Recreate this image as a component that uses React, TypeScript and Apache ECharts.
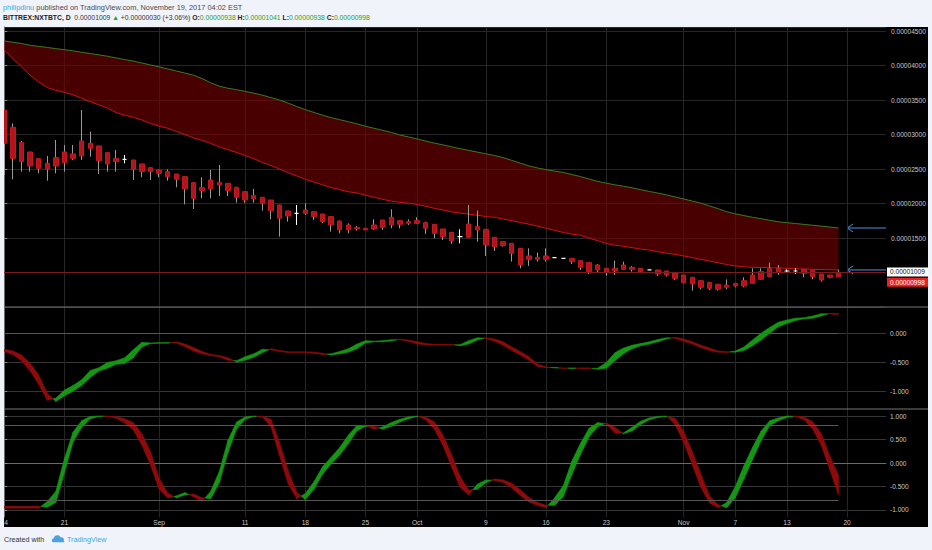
import React, { useEffect, useRef } from "react";
import * as echarts from "echarts";

// ---------- DATA (prices in satoshi, 1e-8 BTC) ----------
const xTickDays = [0, 7, 18, 28, 35, 42, 48, 56, 63, 70, 79, 85, 91, 98];
const xTickLabels = ["14", "21", "Sep", "11", "18", "25", "Oct", "9", "16", "23", "Nov", "7", "13", "20"];

const priceOpen = [3355,3104,2882,2747,2650,2582,2664,2747,2718,2906, 2872,2834,2737,2655,2640,2631,2573,2520,2486,2462, 2428,2389,2302,2230,2341,2307,2293,2235,2172,2114, 2090,2051,1979,1892,1858,1906,1882,1848,1810,1747, 1689,1655,1641,1689,1761,1800,1752,1737,1752,1723, 1699,1631,1583,1520,1703,1665,1626,1510,1447,1423, 1351,1240,1220,1240,1216,1206,1201,1172,1143,1109, 1061,1061,1109,1075,1061,1037,1037,1022,998,964, 930,882,858,829,819,843,882,964,1013,1061, 1061,1022,1022,1046,1037,979,964,938];
const priceClose = [2872,2655,2607,2544,2510,2500,2544,2592,2655,2689, 2800,2621,2573,2607,2640,2495,2462,2462,2437,2389, 2351,2211,2075,2186,2211,2268,2186,2090,2051,2066, 2003,1897,1786,1819,1858,1858,1810,1737,1689,1617, 1617,1636,1617,1631,1655,1689,1699,1713,1713,1641, 1568,1520,1457,1520,1510,1617,1399,1375,1390,1278, 1109,1191,1191,1191,1216,1206,1158,1076,1013,1037, 998,1027,1046,1046,1013,1037,979,964,916,853, 834,786,771,757,786,805,805,843,901,940, 998,1022,1022,988,940,892,930,998];
const priceLow = [2413,2351,2462,2462,2437,2331,2437,2462,2631,2631, 2679,2428,2462,2462,2582,2341,2380,2341,2380,2331, 2235,1988,1921,2075,2075,2109,2109,2012,2012,2012, 1897,1771,1520,1737,1689,1834,1761,1713,1592,1568, 1568,1607,1617,1617,1617,1641,1641,1689,1703,1559, 1496,1472,1414,1423,1510,1447,1240,1312,1375,1158, 1061,1095,1158,1158,1216,1206,1124,1037,979,998, 950,964,1037,1013,998,1037,950,940,892,843, 737,757,747,737,757,786,786,843,892,930, 964,998,979,930,901,868,916,938];
const priceHigh = [3355,3162,2906,2747,2650,2689,2920,2848,2848,3355, 3041,2834,2737,2776,2703,2631,2573,2520,2495,2495, 2428,2389,2302,2380,2486,2558,2293,2235,2172,2211, 2090,2051,1979,1892,1979,2003,1882,1848,1810,1747, 1713,1674,1641,1771,1761,1916,1752,1771,1800,1737, 1699,1631,1583,1626,1979,1897,1626,1510,1447,1423, 1351,1351,1288,1351,1216,1206,1201,1172,1143,1124, 1061,1172,1157,1095,1061,1037,1037,1022,998,964, 930,882,858,829,901,843,930,1061,1061,1143, 1109,1046,1061,1046,1037,979,964,1041];

const cloudUpper = [4355,4337,4318,4293,4277,4262,4244,4229,4212,4192, 4173,4154,4134,4110,4086,4064,4036,4008,3980,3950, 3921,3890,3860,3810,3750,3700,3670,3650,3625,3600, 3570,3535,3500,3455,3405,3360,3320,3280,3245,3215, 3185,3155,3120,3090,3060,3030,2993,2965,2935,2905, 2875,2850,2822,2795,2770,2745,2720,2695,2665,2625, 2585,2545,2515,2490,2470,2450,2420,2390,2355,2320, 2295,2270,2250,2228,2200,2175,2150,2125,2095,2065, 2035,2005,1965,1925,1880,1850,1825,1800,1780,1757, 1735,1722,1710,1697,1685,1672,1658,1645];
const cloudLower = [4225,4100,3980,3860,3760,3680,3640,3610,3575,3525, 3475,3430,3380,3318,3280,3250,3210,3160,3120,3090, 3045,3000,2950,2915,2870,2820,2780,2740,2695,2650, 2595,2550,2500,2445,2400,2350,2310,2270,2230,2200, 2170,2153,2120,2090,2060,2035,2015,2005,1985,1960, 1930,1905,1878,1860,1845,1830,1810,1800,1775,1750, 1725,1700,1670,1640,1610,1580,1555,1540,1500,1460, 1420,1395,1380,1360,1340,1325,1300,1280,1262,1240, 1215,1190,1165,1140,1115,1095,1082,1076,1072,1069, 1066,1060,1055,1050,1046,1042,1040,1037];

const osc1Fast = [-0.31,-0.36,-0.47,-0.65,-0.88,-1.16,-1.12,-0.98,-0.9,-0.8, -0.64,-0.59,-0.5,-0.47,-0.42,-0.28,-0.15,-0.16,-0.155,-0.155, -0.16,-0.22,-0.3,-0.35,-0.38,-0.4,-0.46,-0.47,-0.4,-0.35, -0.27,-0.28,-0.31,-0.325,-0.325,-0.325,-0.34,-0.36,-0.35,-0.31, -0.26,-0.18,-0.12,-0.13,-0.12,-0.105,-0.105,-0.13,-0.18,-0.19, -0.195,-0.195,-0.195,-0.19,-0.12,-0.07,-0.08,-0.13,-0.2,-0.29, -0.37,-0.46,-0.57,-0.59,-0.585,-0.605,-0.595,-0.605,-0.605,-0.6, -0.5,-0.33,-0.25,-0.2,-0.17,-0.14,-0.1,-0.07,-0.08,-0.13, -0.18,-0.24,-0.29,-0.32,-0.325,-0.3,-0.23,-0.11,0.01,0.11, 0.2,0.24,0.27,0.28,0.31,0.35,0.345,0.33];
const osc1Slow = [-0.27,-0.3,-0.37,-0.51,-0.72,-1.04,-1.18,-1.08,-1.0,-0.9, -0.76,-0.65,-0.6,-0.53,-0.52,-0.42,-0.23,-0.17,-0.165,-0.165, -0.14,-0.18,-0.24,-0.31,-0.36,-0.38,-0.42,-0.49,-0.46,-0.41, -0.33,-0.26,-0.29,-0.315,-0.315,-0.315,-0.32,-0.34,-0.37,-0.35, -0.32,-0.26,-0.16,-0.14,-0.14,-0.125,-0.095,-0.11,-0.14,-0.17, -0.185,-0.185,-0.185,-0.21,-0.18,-0.11,-0.07,-0.09,-0.14,-0.23, -0.31,-0.4,-0.53,-0.58,-0.595,-0.595,-0.605,-0.595,-0.595,-0.62, -0.6,-0.47,-0.35,-0.26,-0.21,-0.18,-0.14,-0.09,-0.06,-0.09, -0.14,-0.2,-0.25,-0.3,-0.315,-0.32,-0.29,-0.21,-0.11,0.01, 0.12,0.18,0.23,0.26,0.27,0.31,0.355,0.35];

const osc2Fast = [-0.96,-0.96,-0.96,-0.96,-0.96,-0.82,-0.6,0.1,0.66,0.9, 0.99,1.0,0.99,0.95,0.86,0.7,0.38,-0.04,-0.56,-0.74, -0.7,-0.63,-0.72,-0.82,-0.6,-0.18,0.48,0.87,0.98,1.0, 0.98,0.77,0.16,-0.44,-0.76,-0.65,-0.4,-0.08,0.12,0.33, 0.59,0.8,0.8,0.72,0.77,0.86,0.93,0.98,1.0,0.92, 0.72,0.38,-0.08,-0.52,-0.68,-0.45,-0.36,-0.37,-0.41,-0.53, -0.69,-0.83,-0.9,-0.95,-0.74,-0.48,0.04,0.42,0.74,0.86, 0.83,0.64,0.64,0.76,0.89,0.96,0.99,1.0,0.82,0.44, -0.04,-0.52,-0.85,-0.95,-0.84,-0.5,-0.06,0.33,0.68,0.9, 0.96,1.0,0.99,0.92,0.72,0.38,-0.15,-0.68];
const osc2Slow = [-0.92,-0.92,-0.92,-0.92,-0.92,-0.94,-0.84,-0.2,0.45,0.76, 0.94,0.99,1.0,0.99,0.94,0.86,0.62,0.24,-0.32,-0.64, -0.74,-0.68,-0.66,-0.74,-0.76,-0.42,0.22,0.72,0.93,0.99, 1.0,0.93,0.44,-0.16,-0.62,-0.78,-0.56,-0.24,-0.02,0.17, 0.41,0.68,0.78,0.78,0.72,0.78,0.87,0.94,0.99,0.98, 0.88,0.6,0.18,-0.28,-0.58,-0.56,-0.42,-0.34,-0.36,-0.43, -0.57,-0.73,-0.84,-0.9,-0.9,-0.72,-0.24,0.18,0.56,0.77, 0.85,0.76,0.62,0.68,0.82,0.92,0.97,0.99,0.95,0.67, 0.24,-0.24,-0.7,-0.89,-0.95,-0.74,-0.34,0.07,0.48,0.79, 0.9,0.97,1.0,0.98,0.88,0.62,0.14,-0.26];

const osc1Ticks = [0, -0.5, -1];
const osc2Ticks = [1, 0.5, 0, -0.5, -1];
const osc1Levels = [0];
const osc2Levels = [0.8, -0.8];

const headerUser = "philipdinu";
const headerPublished = " published on TradingView.com, November 19, 2017 04:02 EST";
const headerSymbol = "BITTREX:NXTBTC, D";
const headerLast = 1009;
const headerChange = 30;
const headerChangePct = "+3.06%";

// ---------- STYLE ----------
const FONT = "'Liberation Sans', Arial, sans-serif";
const PAGE_BG = "#f0f3fa";
const GRID_LINE = "#262626";
const PANE_HLINE = "#363636";
const AXIS_LINE = "#6a6a6a";
const LEVEL_LINE = "#575757";
const LABEL = "#c8c8c8";
const CANDLE = "#b3131b";
const WICK = "#9a9a9a";
const GREEN = "#149814";
const RED = "#8f0b0b";
const CLOUD_FILL = "rgba(118,0,0,0.62)";
const X_MIN = -0.035;
const X_MAX = 102.52;

const sat = (v: number) => (v / 1e8).toFixed(8);

const LOGO_PATH =
  "M3 11 C0.5 11 0 7 3.2 6.3 C3.6 2.6 9.5 1.2 11.2 5 C13.8 4.4 16 6.6 15 9 C16.2 9.6 15.6 11 14.2 11 Z";
echarts.graphic.registerShape("tvlogo", echarts.graphic.extendPath(LOGO_PATH, {}));

function ribbon(fast: number[], slow: number[]) {
  return (params: any, api: any) => {
    const i = params.dataIndex;
    if (i >= fast.length - 1) return null;
    const a0 = api.coord([i, fast[i]]);
    const a1 = api.coord([i + 1, fast[i + 1]]);
    const b0 = api.coord([i, slow[i]]);
    const b1 = api.coord([i + 1, slow[i + 1]]);
    const d0 = fast[i] - slow[i];
    const d1 = fast[i + 1] - slow[i + 1];
    const col = (d: number) => (d >= 0 ? GREEN : RED);
    const poly = (pts: number[][], c: string) => ({
      type: "polygon",
      shape: { points: pts },
      style: { fill: c, stroke: c, lineWidth: 0.6 },
    });
    if (d0 * d1 < 0) {
      const t = d0 / (d0 - d1);
      const c = [a0[0] + (a1[0] - a0[0]) * t, a0[1] + (a1[1] - a0[1]) * t];
      return {
        type: "group",
        children: [poly([a0, c, b0], col(d0)), poly([c, a1, b1], col(d1))],
      };
    }
    return poly([a0, a1, b1, b0], col(d0 + d1));
  };
}

function cloudRender(params: any, api: any) {
  if (params.dataIndex !== 0) return null;
  const top = cloudUpper.map((v, i) => api.coord([i, v]));
  const bottom = cloudLower.map((v, i) => api.coord([i, v])).reverse();
  return {
    type: "polygon",
    shape: { points: top.concat(bottom) },
    style: { fill: CLOUD_FILL },
  };
}

export default function App() {
  const ref = useRef<HTMLDivElement>(null);

  useEffect(() => {
    document.body.style.margin = "0";
    const chart = echarts.init(ref.current!, undefined, { renderer: "svg" });
    const N = priceOpen.length;

    const grids = [
      { left: 4, right: 46, top: 27, height: 280 },
      { left: 4, right: 46, top: 307, height: 102 },
      { left: 4, right: 46, top: 409, height: 108 },
    ].map((g) => ({ ...g, containLabel: false, outerBoundsMode: "none", show: false }));

    const xAxes = [0, 1, 2].map((g) => ({
      type: "value",
      gridIndex: g,
      min: X_MIN,
      max: X_MAX,
      axisLine: { show: g === 2, lineStyle: { color: AXIS_LINE, width: 1 } },
      axisTick: { show: false, customValues: xTickDays },
      axisLabel: {
        show: g === 2,
        customValues: xTickDays,
        formatter: (v: number) => {
          const k = xTickDays.indexOf(Math.round(v));
          return k >= 0 ? xTickLabels[k] : "";
        },
        color: LABEL,
        fontSize: 6.6,
        fontFamily: FONT,
        margin: 2,
      },
      splitLine: { show: true, lineStyle: { color: GRID_LINE, width: 1 } },
    }));

    const yCommon = {
      type: "value",
      position: "right",
      axisLine: { show: true, lineStyle: { color: AXIS_LINE, width: 1 } },
    };

    const yAxes = [
      {
        ...yCommon,
        gridIndex: 0,
        min: 500,
        max: 4558,
        interval: 500,
        splitLine: { show: true, lineStyle: { color: GRID_LINE, width: 1 } },
        axisTick: { show: true, length: 3, lineStyle: { color: "#8a8a8a" } },
        axisLabel: {
          color: LABEL,
          fontSize: 6.6,
          fontFamily: FONT,
          margin: 5,
          showMinLabel: false,
          showMaxLabel: false,
          formatter: (v: number) => (v === 1000 ? "" : sat(v)),
        },
      },
      {
        ...yCommon,
        gridIndex: 1,
        min: -1.31,
        max: 0.4655,
        splitLine: { show: true, lineStyle: { color: PANE_HLINE, width: 1 } },
        axisTick: { show: true, length: 3, customValues: osc1Ticks, lineStyle: { color: "#8a8a8a" } },
        axisLabel: {
          customValues: osc1Ticks,
          color: LABEL,
          fontSize: 6.6,
          fontFamily: FONT,
          margin: 4,
          formatter: (v: number) => v.toFixed(3),
        },
      },
      {
        ...yCommon,
        gridIndex: 2,
        min: -1.149,
        max: 1.149,
        splitLine: { show: true, lineStyle: { color: PANE_HLINE, width: 1 } },
        axisTick: { show: true, length: 3, customValues: osc2Ticks, lineStyle: { color: "#8a8a8a" } },
        axisLabel: {
          customValues: osc2Ticks,
          color: LABEL,
          fontSize: 6.6,
          fontFamily: FONT,
          margin: 4,
          formatter: (v: number) => v.toFixed(3),
        },
      },
    ];

    const isDoji = (i: number) => priceOpen[i] === priceClose[i];

    const wickData = priceOpen.map((o, i) => ({
      value: [i, o, priceClose[i], priceLow[i], priceHigh[i]],
      itemStyle: isDoji(i)
        ? { color: "#ffffff", color0: "#ffffff", borderColor: "#ffffff", borderColor0: "#ffffff" }
        : undefined,
    }));
    const bodyData = priceOpen.map((o, i) => {
      const c = priceClose[i];
      return {
        value: [i, o, c, Math.min(o, c), Math.max(o, c)],
        itemStyle: isDoji(i)
          ? { color: "#ffffff", color0: "#ffffff", borderColor: "#ffffff", borderColor0: "#ffffff", borderWidth: 1.2 }
          : undefined,
      };
    });

    const levelLine = (levels: number[]) => ({
      silent: true,
      symbol: "none",
      label: { show: false },
      lineStyle: { color: LEVEL_LINE, width: 1, type: "solid" },
      data: levels.map((lv) => [{ coord: [0, lv] }, { coord: [N - 1, lv] }]),
    });

    const series: any[] = [
      {
        name: "cloudFill",
        type: "custom",
        xAxisIndex: 0,
        yAxisIndex: 0,
        data: cloudUpper.map((u, i) => [i, u, cloudLower[i]]),
        encode: { x: 0, y: [1, 2] },
        renderItem: cloudRender,
        silent: true,
        z: 1,
      },
      {
        name: "cloudLower",
        type: "line",
        xAxisIndex: 0,
        yAxisIndex: 0,
        symbol: "none",
        data: cloudLower.map((v, i) => [i, v]),
        lineStyle: { color: "#c81414", width: 1 },
        z: 1,
      },
      {
        name: "cloudUpper",
        type: "line",
        xAxisIndex: 0,
        yAxisIndex: 0,
        symbol: "none",
        data: cloudUpper.map((v, i) => [i, v]),
        lineStyle: { color: "#3f7a1f", width: 1 },
        z: 1,
      },
      {
        name: "wicks",
        type: "candlestick",
        xAxisIndex: 0,
        yAxisIndex: 0,
        barWidth: 1,
        data: wickData,
        itemStyle: { color: WICK, color0: WICK, borderColor: WICK, borderColor0: WICK, borderWidth: 1 },
        markLine: {
          silent: true,
          symbol: "none",
          label: { show: false },
          lineStyle: { color: "#7a1c1c", width: 1, type: "solid" },
          data: [{ yAxis: priceClose[N - 1] }],
        },
        z: 2,
      },
      {
        name: "bodies",
        type: "candlestick",
        xAxisIndex: 0,
        yAxisIndex: 0,
        barWidth: 5,
        data: bodyData,
        itemStyle: { color: CANDLE, color0: CANDLE, borderColor: "#c41820", borderColor0: "#c41820", borderWidth: 1 },
        z: 3,
      },
      {
        name: "osc1",
        type: "custom",
        xAxisIndex: 1,
        yAxisIndex: 1,
        data: osc1Fast.map((f, i) => [i, f, osc1Slow[i]]),
        encode: { x: 0, y: [1, 2] },
        renderItem: ribbon(osc1Fast, osc1Slow),
        markLine: levelLine(osc1Levels),
        z: 2,
      },
      {
        name: "osc2",
        type: "custom",
        xAxisIndex: 2,
        yAxisIndex: 2,
        data: osc2Fast.map((f, i) => [i, f, osc2Slow[i]]),
        encode: { x: 0, y: [1, 2] },
        renderItem: ribbon(osc2Fast, osc2Slow),
        markLine: levelLine(osc2Levels),
        z: 2,
      },
    ];

    const last = N - 1;
    const baseGraphics: any[] = [
      { id: "bg", type: "rect", z: -10, silent: true, shape: { x: 4, y: 27, width: 924, height: 500 }, style: { fill: "#000000" } },
      { id: "sep1", type: "line", z: 50, silent: true, shape: { x1: 4, y1: 307, x2: 928, y2: 307 }, style: { stroke: "#767676", lineWidth: 1 } },
      { id: "sep2", type: "line", z: 50, silent: true, shape: { x1: 4, y1: 409, x2: 928, y2: 409 }, style: { stroke: "#767676", lineWidth: 1 } },
      { id: "cover", type: "rect", z: 60, silent: true, shape: { x: 0, y: 27, width: 4, height: 500 }, style: { fill: PAGE_BG } },
      {
        id: "h1",
        type: "text",
        x: 3,
        y: 7,
        z: 60,
        style: {
          text: `{u|${headerUser}}${headerPublished}`,
          fill: "#4a4a4a",
          fontSize: 7.4,
          fontFamily: FONT,
          verticalAlign: "middle",
          rich: { u: { fill: "#3ba7e0", fontSize: 7.4, fontFamily: FONT } },
        },
      },
      {
        id: "h2",
        type: "text",
        x: 3,
        y: 17.5,
        z: 60,
        style: {
          text:
            `{b|${headerSymbol}}  ${sat(headerLast)} {g|▲} +${sat(headerChange)} (${headerChangePct}) ` +
            `{b|O:}{g|${sat(priceOpen[last])}} {b|H:}{g|${sat(priceHigh[last])}} ` +
            `{b|L:}{g|${sat(priceLow[last])}} {b|C:}{g|${sat(priceClose[last])}}`,
          fill: "#333333",
          fontSize: 6.8,
          fontFamily: FONT,
          verticalAlign: "middle",
          rich: {
            b: { fill: "#222222", fontWeight: "bold", fontSize: 6.8, fontFamily: FONT },
            g: { fill: "#23a323", fontSize: 6.8, fontFamily: FONT },
          },
        },
      },
      {
        id: "f1",
        type: "text",
        x: 4,
        y: 539.5,
        z: 60,
        style: { text: "Created with", fill: "#333333", fontSize: 7.2, fontFamily: FONT, verticalAlign: "middle" },
      },
      { id: "logo", type: "tvlogo", x: 51, y: 533, scaleX: 0.85, scaleY: 0.85, z: 60, style: { fill: "#4aa3df" } },
      {
        id: "f2",
        type: "text",
        x: 67,
        y: 539.5,
        z: 60,
        style: { text: "TradingView", fill: "#3ba7e0", fontSize: 7.2, fontFamily: FONT, verticalAlign: "middle" },
      },
    ];

    chart.setOption({
      animation: false,
      backgroundColor: PAGE_BG,
      grid: grids,
      xAxis: xAxes,
      yAxis: yAxes,
      series,
      graphic: { elements: baseGraphics },
    } as any);

    const px = (x: number, y: number) => chart.convertToPixel({ gridIndex: 0 } as any, [x, y]) as unknown as number[];
    const arrow = (id: string, yVal: number) => {
      const s = px(98, yVal);
      const e = px(X_MAX, yVal);
      return {
        id,
        type: "group",
        z: 55,
        silent: true,
        children: [
          { type: "line", shape: { x1: s[0], y1: s[1], x2: e[0], y2: s[1] }, style: { stroke: "#4f8ee0", lineWidth: 1 } },
          { type: "polyline", shape: { points: [[s[0] + 6, s[1] - 4], [s[0], s[1]], [s[0] + 6, s[1] + 4]] }, style: { stroke: "#4f8ee0", lineWidth: 1, fill: null } },
        ],
      };
    };
    const tag = (id: string, yVal: number, dy: number, bg: string, fg: string) => {
      const p = px(X_MAX, yVal);
      const y = p[1] + dy;
      return {
        id,
        type: "group",
        z: 58,
        silent: true,
        children: [
          { type: "rect", shape: { x: p[0] + 1, y: y - 4.5, width: 41, height: 9 }, style: { fill: bg } },
          {
            type: "text",
            x: p[0] + 4,
            y,
            style: { text: sat(yVal), fill: fg, fontSize: 6.6, fontFamily: FONT, verticalAlign: "middle" },
          },
        ],
      };
    };

    chart.setOption({
      graphic: {
        elements: [
          ...baseGraphics,
          arrow("arrowUp", cloudUpper[last]),
          arrow("arrowLow", cloudLower[last]),
          tag("tagLast", headerLast, 0, "#ffffff", "#111111"),
          tag("tagClose", priceClose[last], 9.5, "#f01e1e", "#ffffff"),
        ],
      },
    } as any);

    return () => chart.dispose();
  }, []);

  return <div ref={ref} style={{ width: 932, height: 550 }} />;
}
